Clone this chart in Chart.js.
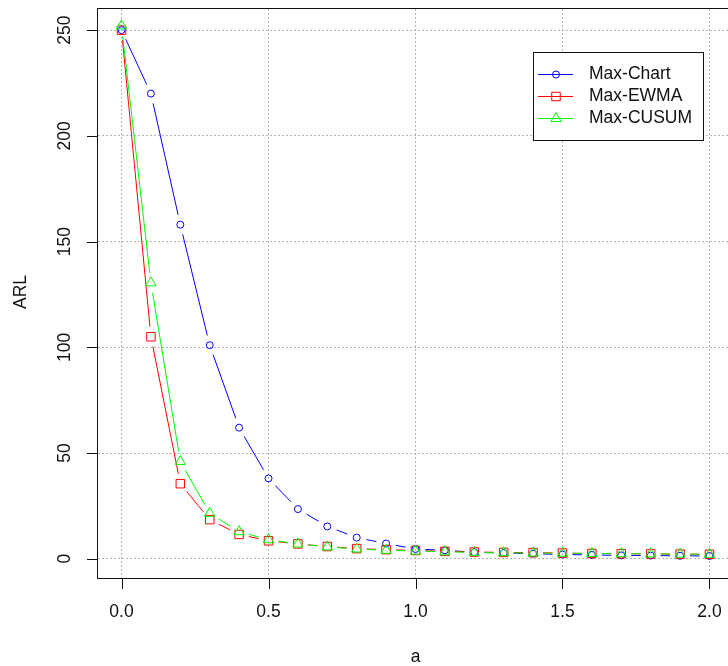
<html>

<head>
    <title>ARL chart</title>
    <meta charset="utf-8">
    <script src="https://cdn.jsdelivr.net/npm/chart.js@4.4.0/dist/chart.umd.min.js"></script>
    <style>
        body { margin: 0; overflow: hidden; background: #fff; }
    </style>
</head>

<body>
    <canvas id="chart" width="740" height="666"></canvas>

    <script>
        // shift a (x axis)
        const shiftA = [0, 0.1, 0.2, 0.3, 0.4, 0.5, 0.6, 0.7, 0.8, 0.9, 1.0,
            1.1, 1.2, 1.3, 1.4, 1.5, 1.6, 1.7, 1.8, 1.9, 2.0];
        // ARL values
        const maxChart = [250, 220, 158, 101, 62, 38, 23.5, 15.3, 10, 7.2, 4.6,
            4.0, 3.1, 2.7, 2.4, 2.0, 1.8, 1.6, 1.5, 1.4, 1.3];
        const maxEwma = [250, 105, 35.5, 18.5, 11.5, 8.5, 7.0, 5.8, 4.8, 4.3, 3.9,
            3.5, 3.2, 3.0, 2.9, 2.7, 2.5, 2.4, 2.3, 2.2, 2.1];
        const maxCusum = [252, 130.5, 46, 21.5, 12.8, 9.0, 7.0, 5.6, 4.6, 4.0, 3.6,
            3.3, 3.0, 2.8, 2.7, 2.6, 2.5, 2.4, 2.3, 2.2, 2.1];
        const seriesNames = ['Max-Chart', 'Max-EWMA', 'Max-CUSUM'];
        const xTicks = [0, 0.5, 1.0, 1.5, 2.0];
        const yTicks = [0, 50, 100, 150, 200, 250];

        const FONT = '17.5px "Liberation Sans", Arial, sans-serif';
        const INK = '#111';
        const GAP = 10; /* R type="b": lines stop short of the symbols */

        function toPoints(values) {
            return values.map((v, i) => ({ x: shiftA[i], y: v }));
        }

        /* draw the gapped lines, ticks, labels, box and legend like base R */
        const rPlot = {
            id: 'rPlot',
            beforeDatasetDraw(chart, args) {
                const ctx = chart.ctx;
                const pts = args.meta.data;
                const ds = chart.data.datasets[args.index];
                ctx.save();
                ctx.strokeStyle = ds.borderColor;
                ctx.lineWidth = 1;
                ctx.beginPath();
                for (let i = 1; i < pts.length; i++) {
                    const p = pts[i - 1], q = pts[i];
                    const dx = q.x - p.x, dy = q.y - p.y;
                    const len = Math.sqrt(dx * dx + dy * dy);
                    if (len <= 2 * GAP) continue;
                    const ux = dx / len, uy = dy / len;
                    ctx.moveTo(p.x + ux * GAP, p.y + uy * GAP);
                    ctx.lineTo(q.x - ux * GAP, q.y - uy * GAP);
                }
                ctx.stroke();
                ctx.restore();
            },
            afterDraw(chart) {
                const ctx = chart.ctx;
                const area = chart.chartArea;
                const xs = chart.scales.x, ys = chart.scales.y;
                ctx.save();

                /* box */
                ctx.strokeStyle = INK;
                ctx.lineWidth = 1;
                ctx.strokeRect(area.left - 0.5, area.top - 0.5,
                    area.right - area.left + 1, area.bottom - area.top + 1);

                /* ticks and labels */
                ctx.font = FONT;
                ctx.fillStyle = INK;
                ctx.beginPath();
                xTicks.forEach(v => {
                    const px = Math.round(xs.getPixelForValue(v)) + 0.5;
                    ctx.moveTo(px, area.bottom);
                    ctx.lineTo(px, area.bottom + 11);
                });
                yTicks.forEach(v => {
                    const py = Math.round(ys.getPixelForValue(v)) + 0.5;
                    ctx.moveTo(area.left, py);
                    ctx.lineTo(area.left - 11, py);
                });
                ctx.stroke();

                ctx.textAlign = 'center';
                ctx.textBaseline = 'middle';
                xTicks.forEach(v => {
                    ctx.fillText(v.toFixed(1), xs.getPixelForValue(v), 612);
                });
                yTicks.forEach(v => {
                    ctx.save();
                    ctx.translate(65, ys.getPixelForValue(v));
                    ctx.rotate(-Math.PI / 2);
                    ctx.fillText(String(v), 0, 0);
                    ctx.restore();
                });

                /* axis titles */
                ctx.fillText('a', xs.getPixelForValue(1.0), 657);
                ctx.save();
                ctx.translate(21, 292);
                ctx.rotate(-Math.PI / 2);
                ctx.fillText('ARL', 0, 0);
                ctx.restore();

                /* legend */
                ctx.fillStyle = '#fff';
                ctx.fillRect(533, 52, 170, 88);
                ctx.strokeStyle = INK;
                ctx.strokeRect(533.5, 52.5, 170, 88);
                chart.data.datasets.forEach((ds, i) => {
                    const ly = 74.5 + i * 22;
                    ctx.strokeStyle = ds.borderColor;
                    ctx.beginPath();
                    ctx.moveTo(538, ly);
                    ctx.lineTo(573, ly);
                    ctx.stroke();
                    ctx.fillStyle = 'rgba(0,0,0,0)';
                    Chart.helpers.drawPoint(ctx, {
                        pointStyle: ds.pointStyle,
                        radius: ds.pointRadius,
                        borderWidth: 1,
                        rotation: 0
                    }, 556, ly);
                    ctx.fillStyle = INK;
                    ctx.textAlign = 'left';
                    ctx.fillText(ds.label, 589, ly);
                });

                ctx.restore();
            }
        };

        const gridOpts = { color: '#b4b4b4', lineWidth: 1, drawTicks: false };
        const borderOpts = { display: false, dash: [2, 2] };

        new Chart(document.getElementById('chart'), {
            type: 'line',
            data: {
                datasets: [
                    {
                        label: seriesNames[0], data: toPoints(maxChart),
                        borderColor: '#0000ff', pointStyle: 'circle', pointRadius: 3.5, order: 3
                    },
                    {
                        label: seriesNames[1], data: toPoints(maxEwma),
                        borderColor: '#ff0000', pointStyle: 'rect', pointRadius: 6, order: 2
                    },
                    {
                        label: seriesNames[2], data: toPoints(maxCusum),
                        borderColor: '#00ff00', pointStyle: 'triangle', pointRadius: 6, order: 1
                    }
                ].map(ds => Object.assign(ds, {
                    showLine: false,
                    pointBorderWidth: 1,
                    pointBackgroundColor: 'rgba(0,0,0,0)',
                    pointBorderColor: ds.borderColor
                }))
            },
            options: {
                responsive: false,
                animation: false,
                events: [],
                layout: { padding: { top: 9, right: 5, left: 0, bottom: 0 } },
                plugins: { legend: { display: false }, tooltip: { enabled: false } },
                scales: {
                    x: {
                        type: 'linear', min: -0.08, max: 2.08,
                        afterBuildTicks: s => { s.ticks = xTicks.map(v => ({ value: v })); },
                        afterFit: s => { s.height = 88; },
                        ticks: { display: false },
                        grid: gridOpts, border: borderOpts
                    },
                    y: {
                        type: 'linear', min: -9.1, max: 260,
                        afterBuildTicks: s => { s.ticks = yTicks.map(v => ({ value: v })); },
                        afterFit: s => { s.width = 98; },
                        ticks: { display: false },
                        grid: gridOpts, border: borderOpts
                    }
                }
            },
            plugins: [rPlot]
        });
    </script>
</body>

</html>
